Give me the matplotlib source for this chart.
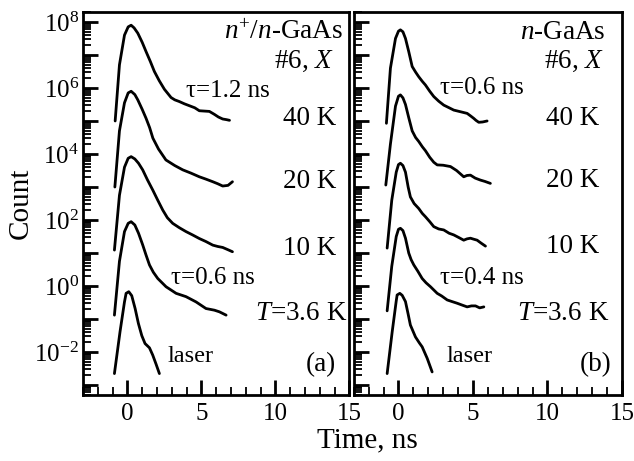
import matplotlib
matplotlib.use('Agg')
import matplotlib.pyplot as plt
import numpy as np
from matplotlib.ticker import LogLocator, FuncFormatter, NullFormatter, MultipleLocator

plt.rcParams['font.family'] = ['Liberation Serif', 'DejaVu Serif']
plt.rcParams['mathtext.fontset'] = 'custom'
plt.rcParams['mathtext.rm'] = 'Liberation Serif'
plt.rcParams['mathtext.it'] = 'Liberation Serif:italic'

# panel (a): n+/n-GaAs, time (ns) and log10(count)
laser_a_t = [-0.88, -0.5, -0.2, -0.09, 0.09, 0.29, 0.52, 0.74, 0.97, 1.19, 1.49, 1.71, 1.94, 2.16]
laser_a_y = [-2.65, -1.38, -0.48, -0.22, -0.17, -0.29, -0.68, -1.13, -1.5, -1.74, -1.87, -2.09, -2.37, -2.65]

k36_a_t = [-0.88, -0.54, -0.2, 0.05, 0.25, 0.5, 0.75, 1.03, 1.25, 1.49, 1.75, 2.05, 2.61, 3.29, 3.96,
           4.64, 5.31, 5.88, 6.22, 6.67]
k36_a_y = [-0.88, 0.75, 1.65, 1.9, 1.95, 1.85, 1.6, 1.25, 0.95, 0.64, 0.42, 0.23, -0.02, -0.22, -0.32,
           -0.48, -0.68, -0.73, -0.78, -0.88]

k10_a_t = [-0.88, -0.54, -0.2, 0.05, 0.25, 0.5, 0.75, 1.03, 1.35, 1.71, 2.05, 2.39, 2.7, 3.06, 3.5,
           3.96, 4.4, 4.86, 5.3, 5.77, 6.1, 6.44, 6.8, 7.1]
k10_a_y = [1.09, 2.75, 3.6, 3.87, 3.92, 3.85, 3.72, 3.52, 3.22, 2.91, 2.6, 2.3, 2.07, 1.9, 1.77,
           1.65, 1.55, 1.44, 1.35, 1.24, 1.2, 1.17, 1.1, 1.04]

k20_a_t = [-0.85, -0.54, -0.2, 0.05, 0.25, 0.5, 0.7, 1.0, 1.26, 1.5, 1.72, 2.1, 2.6, 3.2, 3.74,
           4.3, 4.86, 5.3, 5.77, 6.1, 6.44, 6.8, 7.1]
k20_a_y = [3.0, 4.7, 5.55, 5.85, 5.9, 5.8, 5.64, 5.35, 5.08, 4.8, 4.48, 4.15, 3.82, 3.65, 3.52,
           3.42, 3.31, 3.24, 3.16, 3.1, 3.03, 3.05, 3.16]

k40_a_t = [-0.83, -0.54, -0.2, 0.05, 0.25, 0.45, 0.7, 1.0, 1.26, 1.55, 1.82, 2.15, 2.5, 2.95, 3.2,
           3.5, 3.85, 4.2, 4.55, 4.86, 5.2, 5.54, 5.88, 6.15, 6.44, 6.7, 6.9]
k40_a_y = [5.0, 6.7, 7.6, 7.85, 7.9, 7.82, 7.66, 7.38, 7.1, 6.8, 6.5, 6.22, 5.96, 5.71, 5.64,
           5.59, 5.52, 5.46, 5.4, 5.31, 5.3, 5.29, 5.2, 5.12, 5.06, 5.04, 5.02]

# panel (b): n-GaAs
laser_b_t = [-0.76, -0.42, -0.15, -0.09, 0.09, 0.25, 0.47, 0.65, 0.8, 1.14, 1.4, 1.59, 1.93, 2.26]
laser_b_y = [-2.65, -1.38, -0.45, -0.27, -0.22, -0.28, -0.47, -0.85, -1.18, -1.54, -1.72, -1.84, -2.19, -2.6]

k36_b_t = [-0.76, -0.45, -0.15, 0.0, 0.13, 0.3, 0.47, 0.69, 0.85, 1.03, 1.3, 1.59, 1.85, 2.15, 2.6,
           2.9, 3.27, 3.6, 3.94, 4.3, 4.61, 4.9, 5.17, 5.45, 5.73]
k36_b_y = [-0.75, 0.6, 1.5, 1.72, 1.75, 1.68, 1.45, 1.0, 0.8, 0.64, 0.45, 0.23, 0.1, -0.02, -0.22,
           -0.3, -0.42, -0.47, -0.52, -0.58, -0.63, -0.6, -0.6, -0.66, -0.63]

k10_b_t = [-0.76, -0.45, -0.15, 0.0, 0.13, 0.3, 0.47, 0.65, 0.8, 1.05, 1.36, 1.6, 1.81, 2.1, 2.37,
           2.7, 3.04, 3.4, 3.71, 4.05, 4.38, 4.6, 4.83, 5.05, 5.28, 5.55, 5.84]
k10_b_y = [1.15, 2.6, 3.45, 3.68, 3.72, 3.65, 3.45, 3.0, 2.7, 2.5, 2.35, 2.2, 2.1, 1.95, 1.8,
           1.73, 1.7, 1.6, 1.55, 1.47, 1.39, 1.43, 1.45, 1.42, 1.39, 1.3, 1.21]

k20_b_t = [-0.85, -0.54, -0.2, 0.0, 0.13, 0.3, 0.47, 0.69, 0.92, 1.15, 1.36, 1.6, 1.81, 2.1, 2.37,
           2.6, 3.0, 3.49, 3.9, 4.38, 4.6, 4.83, 5.15, 5.5, 5.8, 6.17]
k20_b_y = [3.06, 4.3, 5.45, 5.75, 5.79, 5.7, 5.5, 5.1, 4.7, 4.5, 4.38, 4.22, 4.1, 3.9, 3.75,
           3.67, 3.66, 3.62, 3.5, 3.31, 3.35, 3.36, 3.27, 3.21, 3.17, 3.11]

k40_b_t = [-0.81, -0.54, -0.2, 0.0, 0.13, 0.3, 0.47, 0.69, 0.92, 1.15, 1.36, 1.6, 1.81, 2.1, 2.37,
           2.7, 3.04, 3.4, 3.71, 4.16, 4.61, 4.85, 5.05, 5.2, 5.39, 5.65, 5.95]
k40_b_y = [4.93, 6.6, 7.5, 7.72, 7.76, 7.7, 7.5, 7.1, 6.65, 6.48, 6.34, 6.2, 6.09, 5.9, 5.74,
           5.6, 5.48, 5.4, 5.33, 5.28, 5.23, 5.15, 5.08, 5.02, 4.96, 4.97, 5.0]

curves_a = [(laser_a_t, laser_a_y), (k36_a_t, k36_a_y), (k10_a_t, k10_a_y),
            (k20_a_t, k20_a_y), (k40_a_t, k40_a_y)]
curves_b = [(laser_b_t, laser_b_y), (k36_b_t, k36_b_y), (k10_b_t, k10_b_y),
            (k20_b_t, k20_b_y), (k40_b_t, k40_b_y)]

fig = plt.figure(figsize=(6.34, 4.61), dpi=100)
ax_a = fig.add_axes([0.131, 0.143, 0.420, 0.831])
ax_b = fig.add_axes([0.558, 0.143, 0.423, 0.831])


def even_decade(v, pos):
    e = int(round(np.log10(v)))
    if e % 2 == 0:
        return r'$10^{%d}$' % e
    return ''


for ax, curves in [(ax_a, curves_a), (ax_b, curves_b)]:
    for t, y in curves:
        ax.plot(t, 10 ** np.array(y), color='black', lw=2.0, solid_capstyle='round')
    ax.set_yscale('log')
    ax.set_xlim(-3, 15)
    ax.set_ylim(5e-4, 2e8)
    ax.yaxis.set_major_locator(LogLocator(base=10, numticks=30))
    ax.yaxis.set_minor_locator(LogLocator(base=10, subs=np.arange(2, 10), numticks=30))
    ax.yaxis.set_minor_formatter(NullFormatter())
    ax.xaxis.set_major_locator(MultipleLocator(5))
    ax.xaxis.set_minor_locator(MultipleLocator(1))
    ax.tick_params(which='both', direction='in', top=False, right=False, labelsize=18)
    ax.tick_params(which='major', length=11, width=2)
    ax.tick_params(which='minor', length=5.5, width=1.3)
    ax.tick_params(axis='x', pad=6)
    ax.tick_params(axis='y', pad=3)
    for s in ax.spines.values():
        s.set_linewidth(2)

ax_a.yaxis.set_major_formatter(FuncFormatter(even_decade))
ax_b.yaxis.set_major_formatter(NullFormatter())

fs = 19.5
ft = 18
# panel (a) annotations
ax_a.text(14.6, 10 ** 7.67, r'$n^{+}$/$n$-GaAs', ha='right', va='center', fontsize=fs)
ax_a.text(14.0, 10 ** 6.8, r'#6, $X$', ha='right', va='center', fontsize=fs)
ax_a.text(3.95, 10 ** 5.9, 'τ=1.2 ns', ha='left', va='center', fontsize=ft)
ax_a.text(10.5, 10 ** 5.08, '40 K', ha='left', va='center', fontsize=fs)
ax_a.text(10.5, 10 ** 3.16, '20 K', ha='left', va='center', fontsize=fs)
ax_a.text(10.5, 10 ** 1.14, '10 K', ha='left', va='center', fontsize=fs)
ax_a.text(2.95, 10 ** 0.23, 'τ=0.6 ns', ha='left', va='center', fontsize=ft)
ax_a.text(8.6, 10 ** -0.83, r'$T$=3.6 K', ha='left', va='center', fontsize=fs)
ax_a.text(2.72, 10 ** -2.14, 'laser', ha='left', va='center', fontsize=17.5)
ax_a.text(14.1, 10 ** -2.39, '(a)', ha='right', va='center', fontsize=fs)

# panel (b) annotations
ax_b.text(13.9, 10 ** 7.67, r'$n$-GaAs', ha='right', va='center', fontsize=fs)
ax_b.text(13.8, 10 ** 6.8, r'#6, $X$', ha='right', va='center', fontsize=fs)
ax_b.text(2.77, 10 ** 6.0, 'τ=0.6 ns', ha='left', va='center', fontsize=ft)
ax_b.text(9.87, 10 ** 5.08, '40 K', ha='left', va='center', fontsize=fs)
ax_b.text(9.87, 10 ** 3.21, '20 K', ha='left', va='center', fontsize=fs)
ax_b.text(9.87, 10 ** 1.19, '10 K', ha='left', va='center', fontsize=fs)
ax_b.text(2.77, 10 ** 0.23, 'τ=0.4 ns', ha='left', va='center', fontsize=ft)
ax_b.text(7.97, 10 ** -0.83, r'$T$=3.6 K', ha='left', va='center', fontsize=fs)
ax_b.text(3.2, 10 ** -2.14, 'laser', ha='left', va='center', fontsize=17.5)
ax_b.text(14.3, 10 ** -2.39, '(b)', ha='right', va='center', fontsize=fs)

fig.text(0.032, 0.56, 'Count', rotation=90, ha='center', va='center', fontsize=21)
fig.text(0.579, 0.044, 'Time, ns', ha='center', va='center', fontsize=21)

fig.savefig('out.png', dpi=100)
